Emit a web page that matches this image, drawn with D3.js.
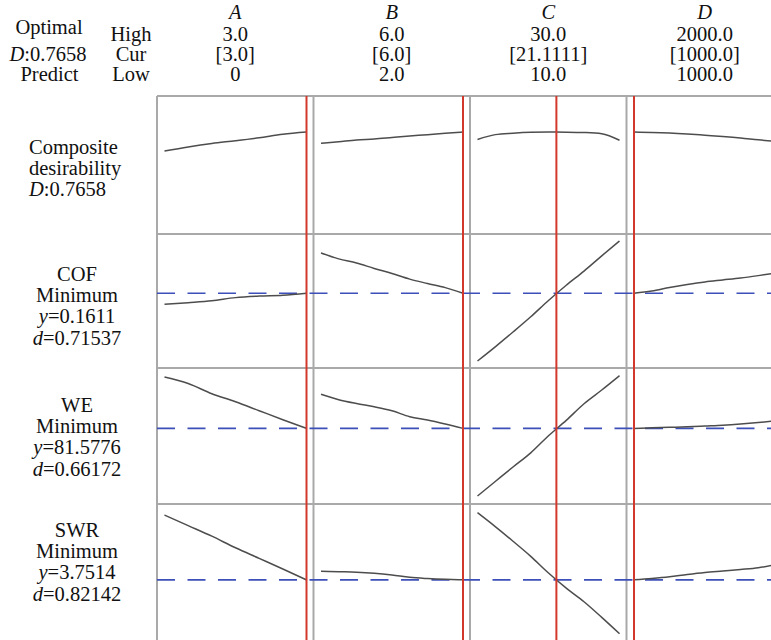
<!DOCTYPE html>
<html>
<head>
<meta charset="utf-8">
<script src="https://cdn.jsdelivr.net/npm/d3@7"></script>
<style>
body { margin: 0; background: #fff; }
svg text { font-family: "Liberation Serif", "Times New Roman", serif; font-size: 20.5px; fill: #111; }
</style>
</head>
<body>
<div id="chart"></div>
<script>
var factors = ["A", "B", "C", "D"];
var highLabels = ["3.0", "6.0", "30.0", "2000.0"];
var curLabels = ["[3.0]", "[6.0]", "[21.1111]", "[1000.0]"];
var lowLabels = ["0", "2.0", "10.0", "1000.0"];
var lowVals = [0, 2, 10, 1000];
var highVals = [3, 6, 30, 2000];
var curVals = [3, 6, 21.1111, 1000];

var levelsA = [0, 0.5, 1.0, 1.5, 2.0, 2.5, 3.0];
var levelsB = [2.0, 2.5, 3.0, 3.5, 4.0, 4.5, 5.0, 5.5, 6.0];
var levelsC = [10, 12.5, 15, 17.5, 20, 22.5, 25, 27.5, 30];
var levelsD = [1000, 1125, 1250, 1375, 1500, 1625, 1750, 1875, 2000];

var responses = ["Composite", "COF", "WE", "SWR"];
var goals = ["", "Minimum", "Minimum", "Minimum"];
var predicted = [0.7658, 0.1611, 81.5776, 3.7514];
var predLabels = ["0.7658", "0.1611", "81.5776", "3.7514"];
var desirLabels = ["", "0.71537", "0.66172", "0.82142"];
var yLimits = [[0, 1], [0.1300, 0.1851], [66.0, 93.7], [2.10, 5.85]];

var compA = [0.613, 0.646, 0.674, 0.696, 0.720, 0.748, 0.7658];
var compB = [0.675, 0.688, 0.702, 0.710, 0.722, 0.734, 0.744, 0.756, 0.7658];
var compC = [0.706, 0.745, 0.757, 0.764, 0.7658, 0.765, 0.762, 0.752, 0.700];
var compD = [0.7658, 0.763, 0.758, 0.750, 0.740, 0.730, 0.718, 0.703, 0.690];

var cofA = [0.1560, 0.1568, 0.1577, 0.1591, 0.1598, 0.1602, 0.1611];
var cofB = [0.1796, 0.1769, 0.1750, 0.1725, 0.1702, 0.1676, 0.1656, 0.1637, 0.1611];
var cofC = [0.1300, 0.1365, 0.1433, 0.1503, 0.1578, 0.1648, 0.1713, 0.1783, 0.1851];
var cofD = [0.1611, 0.1621, 0.1637, 0.1651, 0.1663, 0.1672, 0.1681, 0.1692, 0.1704];

var weA = [93.24, 91.76, 89.45, 87.63, 85.59, 83.55, 81.58];
var weB = [89.31, 88.09, 87.22, 86.48, 85.57, 84.23, 83.48, 82.57, 81.58];
var weC = [66.23, 69.52, 72.81, 76.03, 79.90, 83.40, 87.18, 90.29, 93.54];
var weD = [81.58, 81.71, 81.82, 81.94, 82.12, 82.30, 82.57, 82.91, 83.30];

var swrA = [5.727, 5.405, 5.082, 4.728, 4.406, 4.083, 3.751];
var swrB = [4.015, 4.000, 3.984, 3.951, 3.898, 3.828, 3.791, 3.766, 3.751];
var swrC = [5.798, 5.374, 4.928, 4.467, 3.960, 3.499, 3.084, 2.607, 2.109];
var swrD = [3.751, 3.791, 3.843, 3.914, 3.975, 4.021, 4.067, 4.120, 4.221];

var levels = [levelsA, levelsB, levelsC, levelsD];
var curves = [
    [compA, compB, compC, compD],
    [cofA, cofB, cofC, cofD],
    [weA, weB, weC, weD],
    [swrA, swrB, swrC, swrD]
];

var w = 771, h = 640;
var colLeft = 157, colW = 156.5, padL = 7.5, padR = 7, padY = 7;
var rowTops = [96, 234, 368, 504, 641];
var gridCOLOR = "#a9a9a9", curveCOLOR = "#4d4d4d", curCOLOR = "#d2382b", predCOLOR = "#3d4fb8";

var mysvg = d3.select("#chart").append("svg").attr("width", w).attr("height", h);

var xScales = factors.map(function (f, i) {
    var x0 = colLeft + i * colW;
    return d3.scaleLinear().domain([lowVals[i], highVals[i]]).range([x0 + padL, x0 + colW - padR]);
});
var yScales = responses.map(function (r, j) {
    return d3.scaleLinear().domain(yLimits[j]).range([rowTops[j + 1] - padY, rowTops[j] + padY]);
});

// panel borders
var grid = mysvg.append("g").attr("stroke", gridCOLOR).attr("stroke-width", 2);
for (var j = 0; j < responses.length; j++) {
    grid.append("line").attr("x1", colLeft).attr("x2", w + 10).attr("y1", rowTops[j]).attr("y2", rowTops[j]);
}
for (var i = 0; i < factors.length; i++) {
    var xb = colLeft + i * colW;
    grid.append("line").attr("x1", xb).attr("x2", xb).attr("y1", rowTops[0]).attr("y2", rowTops[4]);
}

// predicted response lines
for (var j = 1; j < responses.length; j++) {
    mysvg.append("line")
        .attr("x1", colLeft).attr("x2", w + 10)
        .attr("y1", yScales[j](predicted[j])).attr("y2", yScales[j](predicted[j]))
        .attr("stroke", predCOLOR).attr("stroke-width", 1.6)
        .attr("stroke-dasharray", "18,12.5");
}

// response curves
for (var j = 0; j < responses.length; j++) {
    for (var i = 0; i < factors.length; i++) {
        var line = d3.line()
            .x(function (d) { return xScales[d.i](d.x); })
            .y(function (d) { return yScales[d.j](d.y); })
            .curve(d3.curveMonotoneX);
        var pts = levels[i].map(function (x, k) { return { i: i, j: j, x: x, y: curves[j][i][k] }; });
        mysvg.append("path").datum(pts).attr("d", line)
            .attr("fill", "none").attr("stroke", curveCOLOR).attr("stroke-width", 1.5);
    }
}

// current settings
for (var i = 0; i < factors.length; i++) {
    var xc = xScales[i](curVals[i]);
    mysvg.append("line").attr("x1", xc).attr("x2", xc).attr("y1", rowTops[0]).attr("y2", rowTops[4])
        .attr("stroke", curCOLOR).attr("stroke-width", 2);
}

// header
var head = mysvg.append("g");
var headY = [19, 41, 61, 81];
for (var i = 0; i < factors.length; i++) {
    var xm = colLeft + (i + 0.5) * colW;
    head.append("text").attr("x", xm).attr("y", headY[0]).attr("text-anchor", "middle")
        .style("font-style", "italic").text(factors[i]);
    head.append("text").attr("x", xm).attr("y", headY[1]).attr("text-anchor", "middle").text(highLabels[i]);
    head.append("text").attr("x", xm).attr("y", headY[2]).attr("text-anchor", "middle").text(curLabels[i]);
    head.append("text").attr("x", xm).attr("y", headY[3]).attr("text-anchor", "middle").text(lowLabels[i]);
}
head.append("text").attr("x", 131).attr("y", headY[1]).attr("text-anchor", "middle").text("High");
head.append("text").attr("x", 131).attr("y", headY[2]).attr("text-anchor", "middle").text("Cur");
head.append("text").attr("x", 131).attr("y", headY[3]).attr("text-anchor", "middle").text("Low");
head.append("text").attr("x", 49).attr("y", 33.5).attr("text-anchor", "middle").text("Optimal");
var dt = head.append("text").attr("x", 48).attr("y", headY[2]).attr("text-anchor", "middle");
dt.append("tspan").style("font-style", "italic").text("D");
dt.append("tspan").text(":" + predLabels[0]);
head.append("text").attr("x", 49.5).attr("y", headY[3]).attr("text-anchor", "middle").text("Predict");

// response labels
var labY = [154, 281, 412, 537];
var lineH = 21.2;
mysvg.append("text").attr("x", 29).attr("y", labY[0]).text("Composite");
mysvg.append("text").attr("x", 29).attr("y", labY[0] + lineH).text("desirability");
var cd = mysvg.append("text").attr("x", 29).attr("y", labY[0] + 2 * lineH);
cd.append("tspan").style("font-style", "italic").text("D");
cd.append("tspan").text(":" + predLabels[0]);
for (var j = 1; j < responses.length; j++) {
    var lx = 77;
    mysvg.append("text").attr("x", lx).attr("y", labY[j]).attr("text-anchor", "middle").text(responses[j]);
    mysvg.append("text").attr("x", lx).attr("y", labY[j] + lineH).attr("text-anchor", "middle").text(goals[j]);
    var ty = mysvg.append("text").attr("x", lx).attr("y", labY[j] + 2 * lineH).attr("text-anchor", "middle");
    ty.append("tspan").style("font-style", "italic").text("y");
    ty.append("tspan").text("=" + predLabels[j]);
    var td = mysvg.append("text").attr("x", lx).attr("y", labY[j] + 3 * lineH).attr("text-anchor", "middle");
    td.append("tspan").style("font-style", "italic").text("d");
    td.append("tspan").text("=" + desirLabels[j]);
}
</script>
</body>
</html>
